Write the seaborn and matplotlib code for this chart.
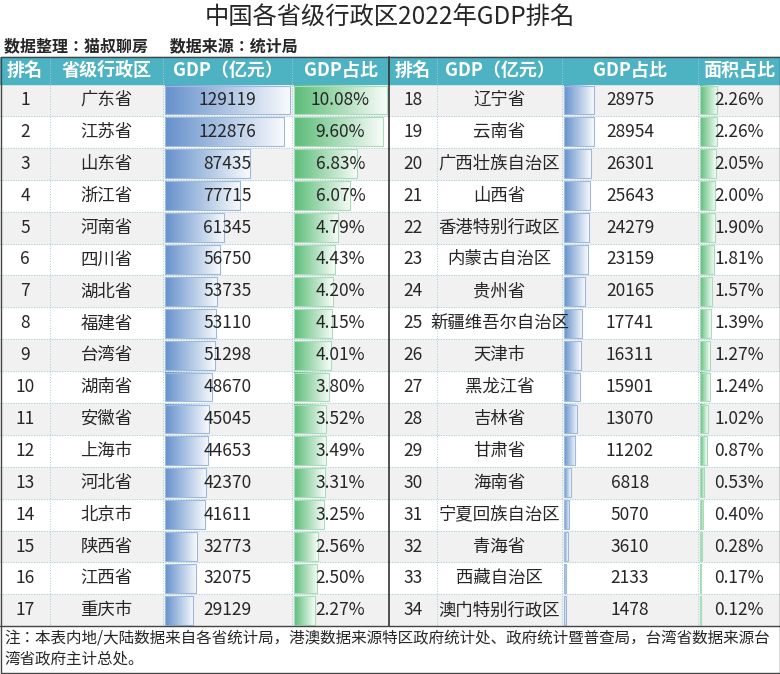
import numpy as np
import matplotlib.pyplot as plt
import seaborn as sns
from matplotlib.patches import Rectangle
from matplotlib import font_manager

sns.set_style("white")
cjk = [f.name for f in font_manager.fontManager.ttflist if "CJK" in f.name]
plt.rcParams["font.family"] = "sans-serif"
plt.rcParams["font.sans-serif"] = ["Noto Sans CJK SC", "Noto Sans CJK JP"] + cjk + ["DejaVu Sans"]

ranks = list(range(1, 35))
provinces = ["广东省", "江苏省", "山东省", "浙江省", "河南省", "四川省", "湖北省", "福建省", "台湾省",
             "湖南省", "安徽省", "上海市", "河北省", "北京市", "陕西省", "江西省", "重庆市",
             "辽宁省", "云南省", "广西壮族自治区", "山西省", "香港特别行政区", "内蒙古自治区", "贵州省",
             "新疆维吾尔自治区", "天津市", "黑龙江省", "吉林省", "甘肃省", "海南省", "宁夏回族自治区",
             "青海省", "西藏自治区", "澳门特别行政区"]
gdp = [129119, 122876, 87435, 77715, 61345, 56750, 53735, 53110, 51298, 48670, 45045, 44653,
       42370, 41611, 32773, 32075, 29129, 28975, 28954, 26301, 25643, 24279, 23159, 20165,
       17741, 16311, 15901, 13070, 11202, 6818, 5070, 3610, 2133, 1478]
share = [10.08, 9.60, 6.83, 6.07, 4.79, 4.43, 4.20, 4.15, 4.01, 3.80, 3.52, 3.49, 3.31, 3.25,
         2.56, 2.50, 2.27, 2.26, 2.26, 2.05, 2.00, 1.90, 1.81, 1.57, 1.39, 1.27, 1.24, 1.02,
         0.87, 0.53, 0.40, 0.28, 0.17, 0.12]
headers_left = ["排名", "省级行政区", "GDP（亿元）", "GDP占比"]
headers_right = ["排名", "GDP（亿元）", "GDP占比", "面积占比"]

W, H = 780, 674
fig = plt.figure(figsize=(W / 100, H / 100), dpi=100)
ax = fig.add_axes([0, 0, 1, 1])
ax.set_xlim(0, W)
ax.set_ylim(H, 0)
ax.axis("off")

head_col = "#4DB3C3"
blue = np.array([0.40, 0.57, 0.80])
green = np.array([0.36, 0.74, 0.47])

def grad_bar(x0, y0, w, h, c, edge):
    if w <= 0:
        return
    g = np.linspace(0, 1, 64)[None, :, None]
    img = c[None, None, :] * (1 - g) + np.array([1, 1, 1])[None, None, :] * g * 0.95 + c * g * 0.05
    ax.imshow(img, extent=(x0, x0 + w, y0 + h, y0), aspect="auto", zorder=2)
    ax.add_patch(Rectangle((x0, y0), w, h, fill=False, ec=edge, lw=0.8, zorder=3))

ax.text(W / 2, 18, "中国各省级行政区2022年GDP排名", ha="center", va="center", fontsize=17.5)
ax.text(4, 46, "数据整理：猫叔聊房      数据来源：统计局", ha="left", va="center",
        fontsize=11.5, fontweight="bold")

top, hh = 57, 27
r0, rh = 84, 31.9
cols_l = [0, 50, 163, 292, 389]
cols_r = [389, 437, 562, 698, 780]
ax.add_patch(Rectangle((0, top), W, hh, color=head_col, zorder=1))
for cols, heads in [(cols_l, headers_left), (cols_r, headers_right)]:
    for i, t in enumerate(heads):
        ax.text((cols[i] + cols[i + 1]) / 2, top + hh / 2, t, ha="center", va="center",
                color="white", fontsize=13, fontweight="bold")
    for x in cols[1:-1]:
        ax.plot([x, x], [top, r0 + 17 * rh], color="#9CCFD8", lw=0.7, ls=":", zorder=4)

for half in range(2):
    cols = cols_l if half == 0 else cols_r
    for j in range(17):
        k = half * 17 + j
        y = r0 + j * rh
        if j % 2 == 0:
            ax.add_patch(Rectangle((cols[0], y), cols[-1] - cols[0], rh, color="#F1F1F1", zorder=0))
        ax.plot([cols[0], cols[-1]], [y + rh, y + rh], color="#9CCFD8", lw=0.7, ls=":", zorder=4)
        gx, gw = cols[2] + 2, cols[3] - cols[2] - 4
        grad_bar(gx, y + 1.5, gw * gdp[k] / max(gdp), rh - 3, blue, "#9FB8DD")
        sx, sw = cols[3] + 2, cols[4] - cols[3] - 4
        grad_bar(sx, y + 1.5, sw * share[k] / max(share), rh - 3, green, "#A8DDB8")
        cy = y + rh / 2
        ax.text((cols[0] + cols[1]) / 2, cy, str(ranks[k]), ha="center", va="center", fontsize=12.5, zorder=5)
        ax.text((cols[1] + cols[2]) / 2, cy, provinces[k], ha="center", va="center", fontsize=12.5, zorder=5)
        ax.text((cols[2] + cols[3]) / 2, cy, str(gdp[k]), ha="center", va="center", fontsize=12.5, zorder=5)
        ax.text((cols[3] + cols[4]) / 2, cy, f"{share[k]:.2f}%", ha="center", va="center", fontsize=12.5, zorder=5)

bottom = r0 + 17 * rh
ax.plot([389, 389], [top, bottom], color="#333333", lw=1.2, zorder=6)
ax.add_patch(Rectangle((0.5, top), W - 1, H - top - 1, fill=False, ec="#444444", lw=1, zorder=6))
ax.plot([0, W], [bottom, bottom], color="#444444", lw=1, zorder=6)
ax.text(4, bottom + 3, "注：本表内地/大陆数据来自各省统计局，港澳数据来源特区政府统计处、政府统计暨普查局，台湾省数据来源台\n湾省政府主计总处。",
        ha="left", va="top", fontsize=11.2, linespacing=1.35)

fig.savefig("out.png", dpi=100)
